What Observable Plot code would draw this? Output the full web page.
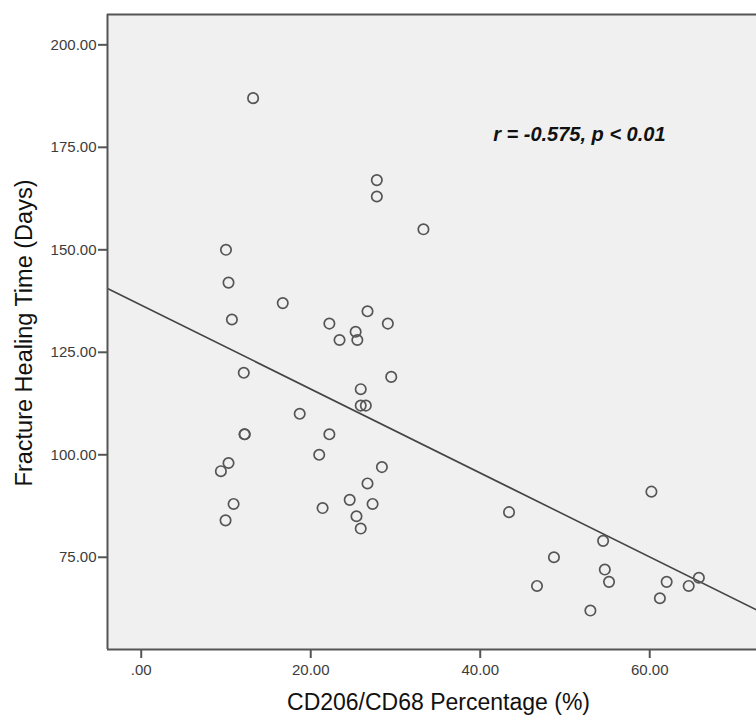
<!DOCTYPE html>
<html>
<head>
<meta charset="utf-8">
<script src="https://cdn.jsdelivr.net/npm/d3@7"></script>
<script src="https://cdn.jsdelivr.net/npm/@observablehq/plot@0.6"></script>
<style>
  html, body { margin: 0; padding: 0; background: #fff; }
</style>
</head>
<body>
<div id="chart"></div>
<script>
// CD206/CD68 percentage (%)
const cd206 = [13.2, 27.8, 27.8, 33.3, 10.0, 10.3, 16.7, 10.7, 22.2, 26.7, 29.1, 25.3, 23.4, 25.5, 12.1, 29.5,
  25.9, 25.9, 26.5, 18.7, 12.2, 12.2, 22.2, 21.0, 10.3, 9.4, 28.4, 26.7, 10.9, 24.6, 27.3, 21.4, 9.95, 25.4,
  25.9, 43.4, 60.2, 54.5, 48.7, 54.7, 55.2, 62.0, 65.8, 64.6, 46.7, 61.2, 53.0];
// Fracture healing time (days)
const healing = [187, 167, 163, 155, 150, 142, 137, 133, 132, 135, 132, 130, 128, 128, 120, 119,
  116, 112, 112, 110, 105, 105, 105, 100, 98, 96, 97, 93, 88, 89, 88, 87, 84, 85,
  82, 86, 91, 79, 75, 72, 69, 69, 70, 68, 68, 65, 62];

const xTicks = [0, 20, 40, 60];
const xTickLabels = [".00", "20.00", "40.00", "60.00"];
const yTicks = [75, 100, 125, 150, 175, 200];
const yTickLabels = ["75.00", "100.00", "125.00", "150.00", "175.00", "200.00"];
const xDomain = [-3.98, 72.6];
const yDomain = [52.5, 207.4];
const xTitle = "CD206/CD68 Percentage (%)";
const yTitle = "Fracture Healing Time (Days)";
const annotation = "r = -0.575, p < 0.01";
const annX = 51.7, annY = 178.1;

const data = cd206.map((x, i) => ({x, y: healing[i]}));

// least-squares fit from the data
const mx = d3.mean(cd206), my = d3.mean(healing);
const slope = d3.sum(data, d => (d.x - mx) * (d.y - my)) / d3.sum(data, d => (d.x - mx) ** 2);
const intercept = my - slope * mx;
const fitLine = xDomain.map(x => ({x, y: intercept + slope * x}));

const font = "'Liberation Sans', Arial, sans-serif";

const chart = Plot.plot({
  width: 756,
  height: 716,
  marginLeft: 107,
  marginTop: 14,
  marginBottom: 67,
  marginRight: 0,
  style: {fontFamily: font, color: "#3c3c3c", background: "#fff", overflow: "hidden"},
  x: {domain: xDomain},
  y: {domain: yDomain},
  marks: [
    Plot.frame({fill: "#f0f0f0", stroke: null}),
    Plot.line(fitLine, {x: "x", y: "y", stroke: "#454545", strokeWidth: 1.6, clip: true}),
    Plot.dot(data, {x: "x", y: "y", r: 5.2, stroke: "#555", strokeWidth: 1.7, fill: "none"}),
    Plot.ruleX([xDomain[0]], {stroke: "#555", strokeWidth: 2}),
    Plot.ruleY([yDomain[0]], {stroke: "#555", strokeWidth: 2}),
    Plot.ruleY([yDomain[1]], {stroke: "#555", strokeWidth: 2}),
    Plot.axisY({ticks: yTicks, tickFormat: d => yTickLabels[yTicks.indexOf(d)], tickSize: 9, tickPadding: 2,
      fontSize: 15, strokeWidth: 2, stroke: "#555", label: null}),
    Plot.axisX({ticks: xTicks, tickFormat: d => xTickLabels[xTicks.indexOf(d)], tickSize: 9, tickPadding: 6,
      fontSize: 15, strokeWidth: 2, stroke: "#555", label: null}),
    Plot.text([xTitle], {frameAnchor: "bottom", text: d => d, textAnchor: "middle", dx: 6.5, dy: 53.5,
      lineAnchor: "middle", fontSize: 23, fill: "#111"}),
    Plot.text([yTitle], {frameAnchor: "left", text: d => d, rotate: -90, textAnchor: "middle", dx: -83.5, dy: 1,
      lineAnchor: "middle", fontSize: 23.5, fill: "#111"}),
    Plot.text([annotation], {x: () => annX, y: () => annY, text: d => d, fontSize: 20, fontWeight: "bold",
      fontStyle: "italic", fill: "#111", lineAnchor: "middle"})
  ]
});
document.getElementById("chart").appendChild(chart);
</script>
</body>
</html>
